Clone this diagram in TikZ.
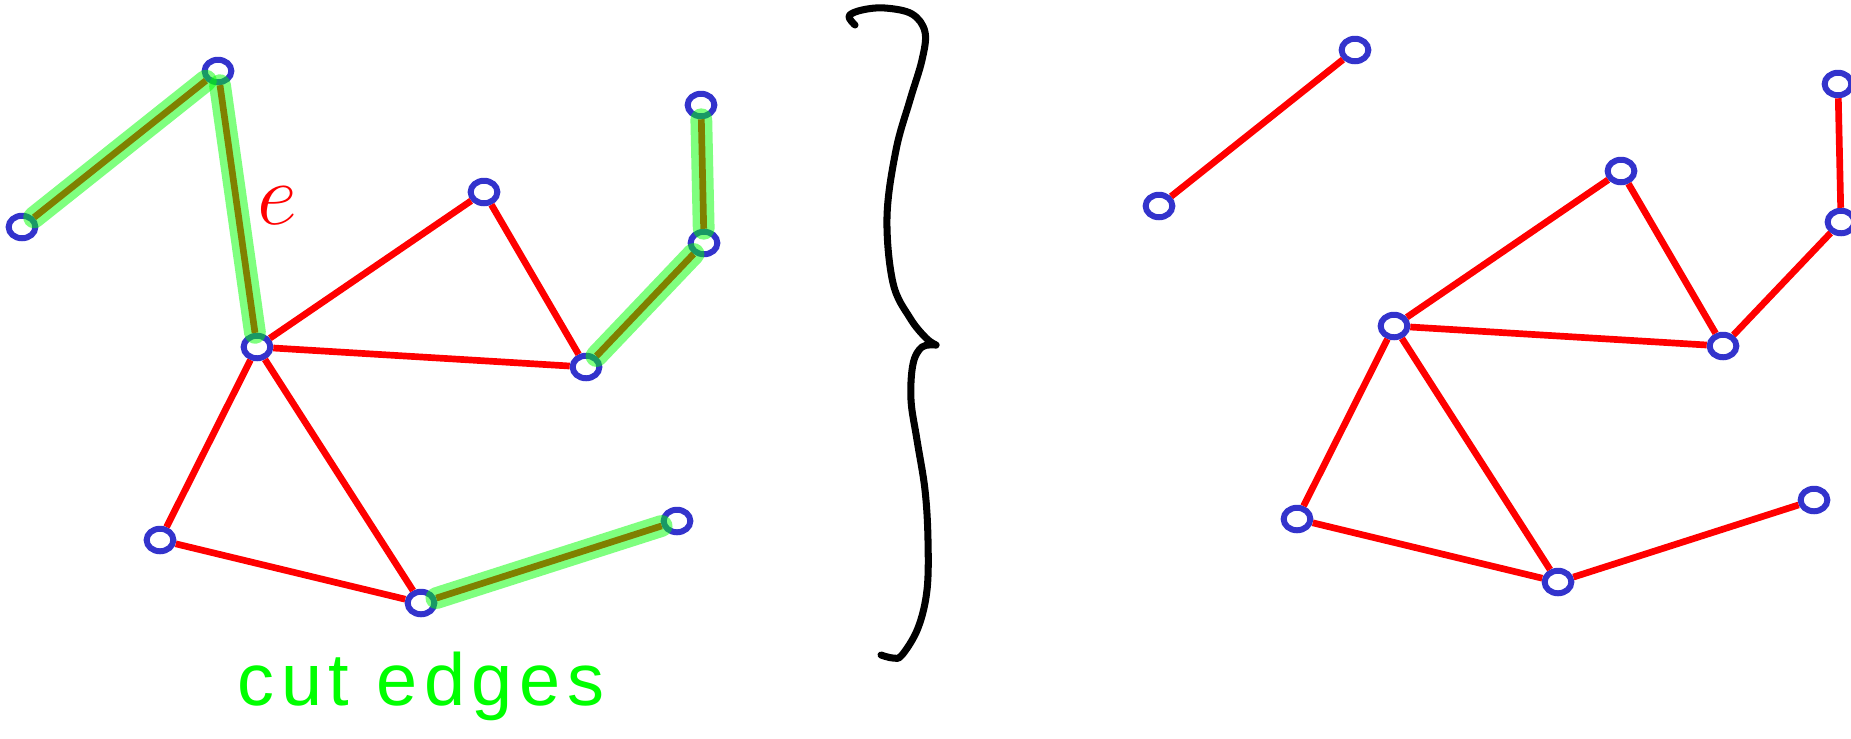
\documentclass[tikz,border=0pt]{standalone}
\usepackage{fontspec}
\usepackage{tikz}
\usetikzlibrary{shapes.geometric}
\newfontfamily\handfont[LetterSpace=9]{Liberation Sans}
\definecolor{vblue}{RGB}{51,51,204}

\begin{document}
\begin{tikzpicture}[x=0.01cm,y=-0.01cm,
  vtx/.style={draw=vblue,ellipse,line width=1.7pt,minimum width=7.6pt,minimum height=6.4pt,inner sep=0pt},
  edge/.style={red,line width=1.9pt},
  cut/.style={green,opacity=0.5,line width=6.2pt,line cap=round},
  brace/.style={line width=2pt,line cap=round,line join=round}]
\useasboundingbox (0,0) rectangle (1851,738);
% G on the left, G - e on the right
\foreach \n/\x/\y in {1/218/71,2/22/227,3/257/347,4/484/192,5/586/367,
  6/701/105,7/704/243,8/160/540,9/421/603,10/677/521} {
  \node[vtx] (g\n) at (\x,\y) {};
  \node[vtx] (h\n) at (\x+1137,\y-21) {};
}
\foreach \u/\v in {1/2,1/3,3/4,4/5,3/5,5/7,7/6,3/8,3/9,8/9,9/10} \draw[edge] (g\u) -- (g\v);
\foreach \u/\v in {1/2,3/4,4/5,3/5,5/7,7/6,3/8,3/9,8/9,9/10} \draw[edge] (h\u) -- (h\v);
\foreach \u/\v in {1/2,1/3,5/7,7/6,9/10} \draw[cut] (g\u) -- (g\v);
\node[red,font=\fontsize{26}{30}\selectfont] (elabel) at (277,206) {$e$};
\node[green,font=\handfont\fontsize{21}{24}\selectfont,anchor=base] (cutlabel) at (421,705) {cut edges};
% the brace
\draw[brace] plot[smooth,tension=0.6] coordinates {(855,25) (849,16) (862,10) (885,8) (912,14)
  (925,32) (922,60) (910,100) (896,150) (887,217) (893,283) (910,318) (926,338) (936,345)};
\draw[brace] plot[smooth,tension=0.6] coordinates {(936,345) (922,347) (913,364) (911,400)
  (917,440) (925,490) (928,540) (927,590) (918,628) (902,655) (893,658) (881,655)};
\end{tikzpicture}
\end{document}
